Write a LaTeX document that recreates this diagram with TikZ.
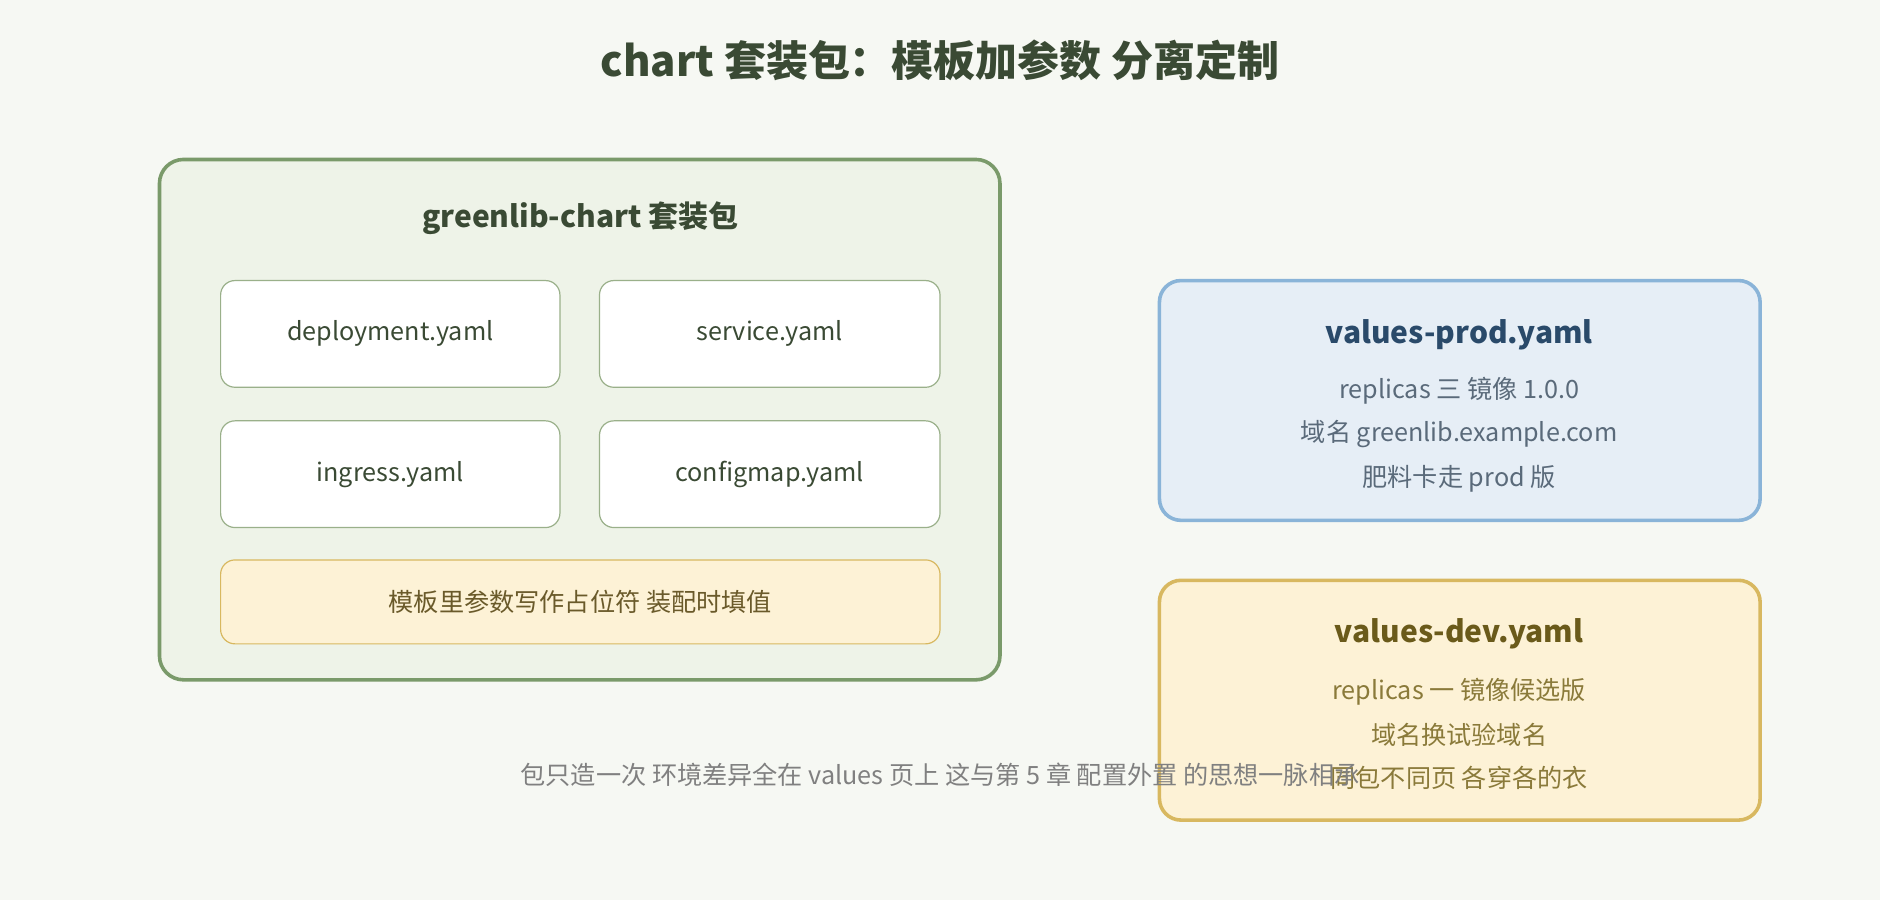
\documentclass[tikz,border=0pt]{standalone}
\usepackage{fontspec}
\setmainfont{Noto Sans CJK SC}
\definecolor{bgc}{HTML}{F6F8F3}
\definecolor{chartfill}{HTML}{EEF3E8}
\definecolor{chartline}{HTML}{7A9A6A}
\definecolor{fileline}{HTML}{9AB08A}
\definecolor{darkgreen}{HTML}{3A4A34}
\definecolor{notefill}{HTML}{FDF2D6}
\definecolor{noteline}{HTML}{D8B860}
\definecolor{notetext}{HTML}{6A5A2A}
\definecolor{prodfill}{HTML}{E6EEF6}
\definecolor{prodline}{HTML}{8AB4D8}
\definecolor{prodtitle}{HTML}{2A4A6A}
\definecolor{prodtext}{HTML}{5A6A7A}
\definecolor{devtitle}{HTML}{6A5A1A}
\definecolor{devtext}{HTML}{8A7A3A}
\tikzset{
  file/.style={draw=fileline, fill=white, line width=1pt, rounded corners=12pt},
  txt/.style={font=\fontsize{21}{25}\selectfont},
  head/.style={font=\fontsize{25}{30}\selectfont\bfseries},
}
\begin{document}
\begin{tikzpicture}[x=1pt, y=-1pt]
  \fill[bgc] (0,0) rectangle (1568,751);
  \node[font=\fontsize{35}{40}\selectfont\bfseries, text=darkgreen] (title) at (784,50) {chart 套装包：模板加参数 分离定制};
  % the chart package
  \draw[fill=chartfill, draw=chartline, line width=3pt, rounded corners=20pt] (133,133) rectangle (834,567);
  \node[head, text=darkgreen] (chart) at (484,182) {greenlib-chart 套装包};
  \draw[file] (184,234) rectangle (467,323) node[pos=.5, txt, text=darkgreen] (dep) {deployment.yaml};
  \draw[file] (500,234) rectangle (784,323) node[pos=.5, txt, text=darkgreen] (svc) {service.yaml};
  \draw[file] (184,351) rectangle (467,440) node[pos=.5, txt, text=darkgreen] (ing) {ingress.yaml};
  \draw[file] (500,351) rectangle (784,440) node[pos=.5, txt, text=darkgreen] (cfg) {configmap.yaml};
  \draw[fill=notefill, draw=noteline, line width=1pt, rounded corners=12pt] (184,467) rectangle (784,537) node[pos=.5, txt, text=notetext] (note) {模板里参数写作占位符 装配时填值};
  % values pages
  \draw[fill=prodfill, draw=prodline, line width=3pt, rounded corners=18pt] (967,234) rectangle (1468,434);
  \node[head, text=prodtitle] (prod) at (1217,279) {values-prod.yaml};
  \node[txt, text=prodtext] (prod1) at (1217,326) {replicas 三 镜像 1.0.0};
  \node[txt, text=prodtext] (prod2) at (1217,362) {域名 greenlib.example.com};
  \node[txt, text=prodtext] (prod3) at (1217,399) {肥料卡走 prod 版};
  \draw[fill=notefill, draw=noteline, line width=3pt, rounded corners=18pt] (967,484) rectangle (1468,684);
  \node[head, text=devtitle] (dev) at (1217,529) {values-dev.yaml};
  \node[txt, text=devtext] (dev1) at (1217,577) {replicas 一 镜像候选版};
  \node[txt, text=devtext] (dev2) at (1217,613) {域名换试验域名};
  \node[txt, text=devtext] (dev3) at (1217,649) {同包不同页 各穿各的衣};
  \node[txt, text=gray] (foot) at (784,646) {包只造一次 环境差异全在 values 页上 这与第 5 章 配置外置 的思想一脉相承};
\end{tikzpicture}
\end{document}
